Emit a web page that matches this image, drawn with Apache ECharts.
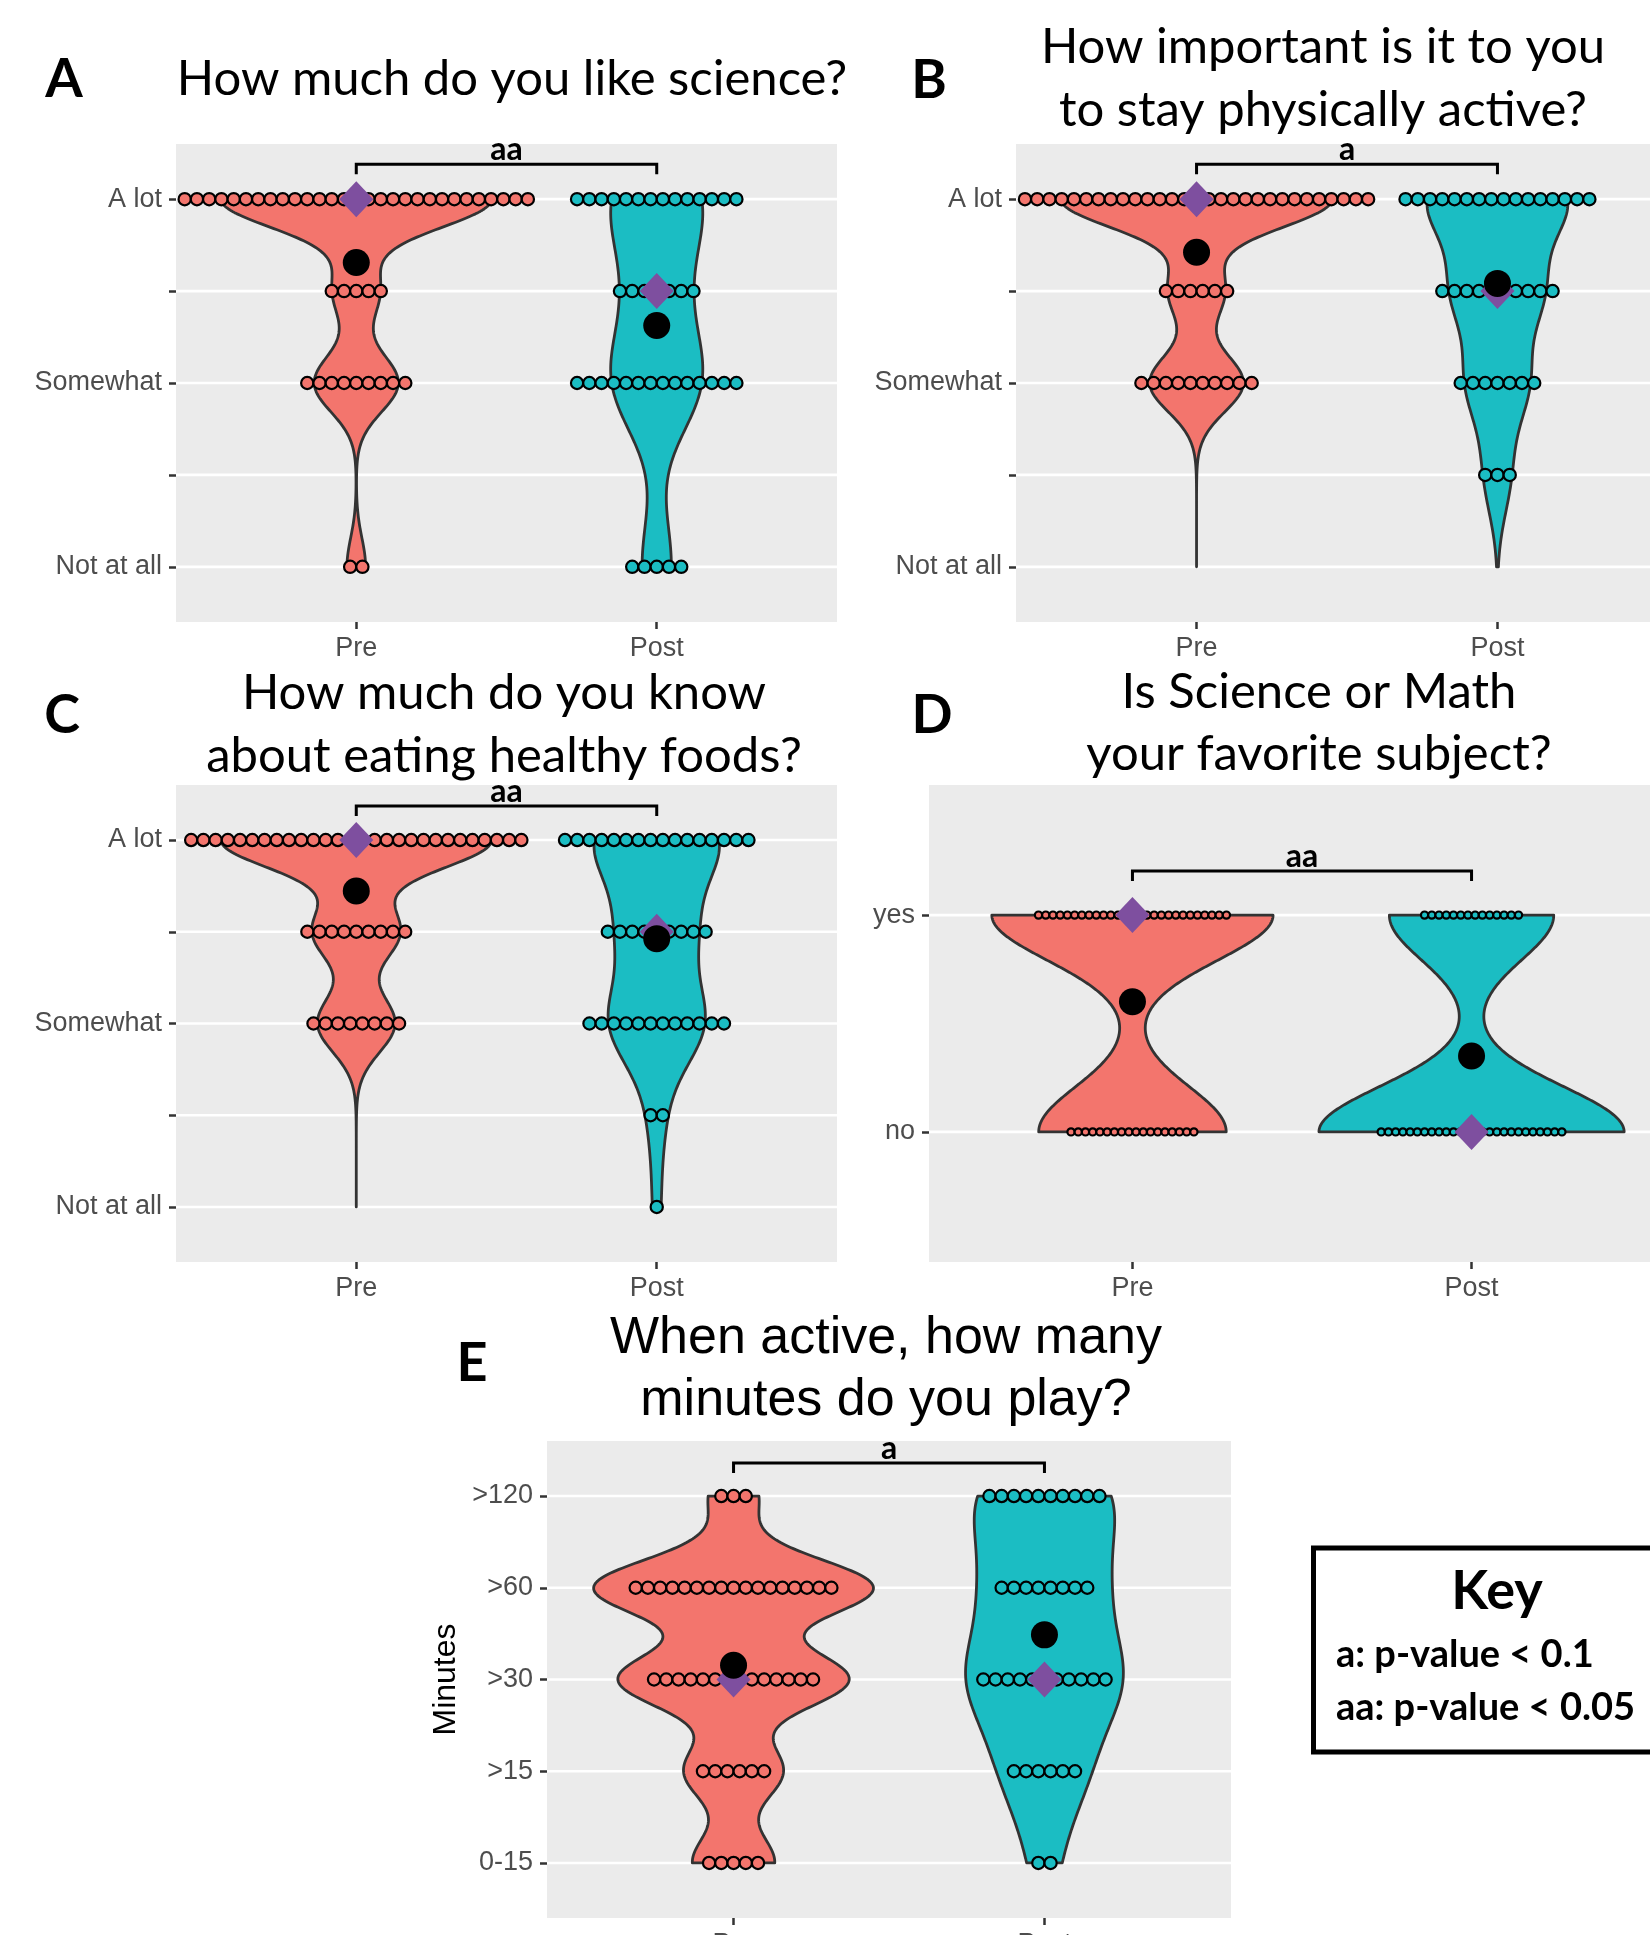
<!DOCTYPE html>
<html>
<head>
<meta charset="utf-8">
<script src="https://cdn.jsdelivr.net/npm/echarts@6/dist/echarts.min.js"></script>
<style>
html, body { margin: 0; padding: 0; background: #fff; overflow: hidden; }
#main { width: 1700px; height: 1990px; }
</style>
</head>
<body>
<div id="main"></div>
<script>
// answer counts per level, lowest level first
var groups = ['Pre', 'Post'];

var likeLevels = ['Not at all', '', 'Somewhat', '', 'A lot'];
var likePre  = [2, 0, 9, 5, 29];
var likePost = [5, 0, 14, 7, 14];

var activeLevels = ['Not at all', '', 'Somewhat', '', 'A lot'];
var activePre  = [0, 0, 10, 6, 29];
var activePost = [0, 3, 7, 10, 16];

var foodLevels = ['Not at all', '', 'Somewhat', '', 'A lot'];
var foodPre  = [0, 0, 8, 9, 28];
var foodPost = [1, 2, 12, 9, 16];

var favLevels = ['no', 'yes'];
var favPre  = [18, 27];
var favPost = [26, 14];

var minutesLevels = ['0-15', '>15', '>30', '>60', '>120'];
var minutesPre  = [5, 6, 14, 17, 3];
var minutesPost = [2, 6, 11, 8, 10];

var signif = ['aa', 'a', 'aa', 'aa', 'a'];

var fills = ['#F3756D', '#1BBDC3'];
var TITLE_FONT = 'Lato';
var AXIS_FONT = 'Liberation Sans';

var panels = [
    {letter: 'A', title: ['How much do you like science?'], levels: likeLevels, pre: likePre, post: likePost,
     grid: {left: 176, top: 144, width: 661, height: 478}, titleX: 512, titleY: [79], letterXY: [64, 80], gap: 35},
    {letter: 'B', title: ['How important is it to you', 'to stay physically active?'], levels: activeLevels, pre: activePre, post: activePost,
     grid: {left: 1016, top: 144, width: 662, height: 478}, titleX: 1323, titleY: [47, 110], letterXY: [929, 81], gap: 35},
    {letter: 'C', title: ['How much do you know', 'about eating healthy foods?'], levels: foodLevels, pre: foodPre, post: foodPost,
     grid: {left: 176, top: 785, width: 661, height: 477}, titleX: 504, titleY: [693, 756], letterXY: [62, 716], gap: 34},
    {letter: 'D', title: ['Is Science or Math', 'your favorite subject?'], levels: favLevels, pre: favPre, post: favPost,
     grid: {left: 929, top: 785, width: 746, height: 477}, titleX: 1319, titleY: [692, 754], letterXY: [932, 716], gap: 44},
    {letter: 'E', title: ['When active, how many', 'minutes do you play?'], levels: minutesLevels, pre: minutesPre, post: minutesPost,
     grid: {left: 547, top: 1441, width: 684, height: 477}, titleX: 886, titleY: [1339, 1401], letterXY: [472, 1364], gap: 33,
     titleFont: '52px "Liberation Sans"', yName: 'Minutes'}
];

function expand(counts) {
    var v = [];
    counts.forEach(function (c, i) { for (var k = 0; k < c; k++) v.push(i + 1); });
    return v;
}
function quantile(s, p) {
    var h = (s.length - 1) * p, lo = Math.floor(h);
    var hi = Math.min(lo + 1, s.length - 1);
    return s[lo] + (h - lo) * (s[hi] - s[lo]);
}
function meanOf(v) { return v.reduce(function (a, b) { return a + b; }, 0) / v.length; }
function medianOf(v) { var s = v.slice().sort(function (a, b) { return a - b; }); return quantile(s, 0.5); }
// R's bw.nrd0
function bandwidth(v) {
    var n = v.length, m = meanOf(v);
    var sd = Math.sqrt(v.reduce(function (a, b) { return a + (b - m) * (b - m); }, 0) / (n - 1));
    var s = v.slice().sort(function (a, b) { return a - b; });
    var lo = Math.min(sd, (quantile(s, 0.75) - quantile(s, 0.25)) / 1.34);
    if (!(lo > 0)) lo = sd;
    return 0.9 * lo * Math.pow(n, -0.2);
}
function density(v, bw, y) {
    var s = 0;
    for (var i = 0; i < v.length; i++) { var z = (y - v[i]) / bw; s += Math.exp(-0.5 * z * z); }
    return s / (v.length * bw * Math.sqrt(2 * Math.PI));
}

var grids = [], xAxes = [], yAxes = [], series = [], graphics = [];

panels.forEach(function (p, pi) {
    var nLev = p.levels.length;
    var vals = [expand(p.pre), expand(p.post)];
    var counts = [p.pre, p.post];

    // violin profiles, scale = "area", trimmed to the level range
    var steps = 300, maxD = 0;
    var profs = vals.map(function (v) {
        var bw = bandwidth(v), pr = [];
        for (var k = 0; k <= steps; k++) {
            var y = 1 + (nLev - 1) * k / steps;
            var d = density(v, bw, y);
            maxD = Math.max(maxD, d);
            pr.push([y, d]);
        }
        return pr;
    });

    grids.push(Object.assign({show: true, backgroundColor: '#EBEBEB', borderWidth: 0,
                              containLabel: false, outerBoundsMode: 'none'}, p.grid));

    xAxes.push({
        type: 'value', gridIndex: pi, min: 0.4, max: 2.6,
        axisLine: {show: false}, splitLine: {show: false},
        axisTick: {show: true, customValues: [1, 2], length: 7, lineStyle: {color: '#333', width: 2.5}},
        axisLabel: {customValues: [1, 2], margin: 13, color: '#4D4D4D', fontFamily: AXIS_FONT, fontSize: 27,
            formatter: function (v) { return groups[Math.round(v) - 1]; }}
    });
    var ticks = p.levels.map(function (l, i) { return i + 1; });
    yAxes.push({
        type: 'value', gridIndex: pi, min: 0.4, max: nLev + 0.6,
        axisLine: {show: false}, splitLine: {show: false},
        axisTick: {show: true, customValues: ticks, length: 7, lineStyle: {color: '#333', width: 2.5}},
        axisLabel: {customValues: ticks, margin: 14, color: '#4D4D4D', fontFamily: AXIS_FONT, fontSize: 27,
            formatter: function (v) { return p.levels[Math.round(v) - 1]; }}
    });

    // grid lines at each level
    series.push({
        type: 'custom', xAxisIndex: pi, yAxisIndex: pi, z: 1, silent: true,
        data: ticks.map(function (t) { return [1, t]; }),
        renderItem: function (params, api) {
            var y = api.coord([1, api.value(1)])[1], cs = params.coordSys;
            return {type: 'line', shape: {x1: cs.x, y1: y, x2: cs.x + cs.width, y2: y},
                    style: {stroke: '#fff', lineWidth: 2.6}};
        }
    });

    // violins
    series.push({
        type: 'custom', xAxisIndex: pi, yAxisIndex: pi, z: 2, silent: true,
        data: [[1, 1], [2, 1]],
        renderItem: function (params, api) {
            var g = params.dataIndex, cx = g + 1, pr = profs[g], pts = [];
            pr.forEach(function (q) { pts.push(api.coord([cx + 0.45 * q[1] / maxD, q[0]])); });
            for (var k = pr.length - 1; k >= 0; k--) pts.push(api.coord([cx - 0.45 * pr[k][1] / maxD, pr[k][0]]));
            return {type: 'polygon', shape: {points: pts},
                    style: {fill: fills[g], stroke: '#333333', lineWidth: 2.8, lineJoin: 'round'}};
        }
    });

    // dot plot, binwidth = range / 30, stacked centred
    var binw = (nLev - 1) / 30, dotData = [];
    counts.forEach(function (c, g) {
        c.forEach(function (n, i) { if (n > 0) dotData.push([g + 1, i + 1, n, g]); });
    });
    series.push({
        type: 'custom', xAxisIndex: pi, yAxisIndex: pi, z: 3, silent: true,
        data: dotData,
        renderItem: function (params, api) {
            var c = api.coord([api.value(0), api.value(1)]);
            var n = api.value(2), g = api.value(3);
            var d = api.size([0, binw])[1], kids = [];
            for (var i = 0; i < n; i++) {
                kids.push({type: 'circle', shape: {cx: c[0] + (i - (n - 1) / 2) * d, cy: c[1], r: d / 2},
                           style: {fill: fills[g], stroke: '#000', lineWidth: 2.2}});
            }
            return {type: 'group', children: kids};
        }
    });

    // medians and means
    series.push({
        type: 'scatter', xAxisIndex: pi, yAxisIndex: pi, z: 4, silent: true,
        symbol: 'diamond', symbolSize: [34, 36], itemStyle: {color: '#7E4F9F', opacity: 1},
        data: vals.map(function (v, g) { return [g + 1, medianOf(v)]; })
    });
    series.push({
        type: 'scatter', xAxisIndex: pi, yAxisIndex: pi, z: 5, silent: true,
        symbol: 'circle', symbolSize: 27, itemStyle: {color: '#000', opacity: 1},
        data: vals.map(function (v, g) { return [g + 1, meanOf(v)]; })
    });

    // significance bracket
    series.push({
        type: 'custom', xAxisIndex: pi, yAxisIndex: pi, z: 6, silent: true,
        data: [[1.5, nLev]],
        renderItem: function (params, api) {
            var a = api.coord([1, nLev]), b = api.coord([2, nLev]);
            var yl = a[1] - p.gap, yt = yl + 10;
            return {type: 'group', children: [
                {type: 'polyline', shape: {points: [[a[0], yt], [a[0], yl], [b[0], yl], [b[0], yt]]},
                 style: {stroke: '#000', lineWidth: 3, fill: null}},
                {type: 'text', x: (a[0] + b[0]) / 2, y: yl - 14,
                 style: {text: signif[pi], font: 'bold 32px Lato', fill: '#000',
                         textAlign: 'center', textVerticalAlign: 'middle', align: 'center', verticalAlign: 'middle'}}
            ]};
        }
    });

    // titles and panel letters
    p.title.forEach(function (t, li) {
        graphics.push({type: 'text', x: p.titleX, y: p.titleY[li],
            style: {text: t, font: p.titleFont || ('49px ' + TITLE_FONT), fill: '#000',
                    textAlign: 'center', textVerticalAlign: 'middle', align: 'center', verticalAlign: 'middle'}});
    });
    graphics.push({type: 'text', x: p.letterXY[0], y: p.letterXY[1],
        style: {text: p.letter, font: 'bold 54px ' + TITLE_FONT, fill: '#000',
                textAlign: 'center', textVerticalAlign: 'middle', align: 'center', verticalAlign: 'middle'}});
    if (p.yName) {
        graphics.push({type: 'text', x: 446, y: p.grid.top + p.grid.height / 2, rotation: Math.PI / 2,
            style: {text: p.yName, font: '32px ' + AXIS_FONT, fill: '#000',
                    textAlign: 'center', textVerticalAlign: 'middle', align: 'center', verticalAlign: 'middle'}});
    }
});

// key box
graphics.push({type: 'rect', shape: {x: 1313.5, y: 1548, width: 420, height: 204},
               style: {fill: '#fff', stroke: '#000', lineWidth: 5}});
graphics.push({type: 'text', x: 1497, y: 1592,
    style: {text: 'Key', font: 'bold 54px Lato', fill: '#000', textAlign: 'center', textVerticalAlign: 'middle', align: 'center', verticalAlign: 'middle'}});
graphics.push({type: 'text', x: 1336, y: 1655,
    style: {text: 'a: p-value < 0.1', font: 'bold 38px Lato', fill: '#000', textAlign: 'left', textVerticalAlign: 'middle', align: 'left', verticalAlign: 'middle'}});
graphics.push({type: 'text', x: 1336, y: 1708,
    style: {text: 'aa: p-value < 0.05', font: 'bold 38px Lato', fill: '#000', textAlign: 'left', textVerticalAlign: 'middle', align: 'left', verticalAlign: 'middle'}});

var chart = echarts.init(document.getElementById('main'), null, {renderer: 'canvas'});
chart.setOption({
    backgroundColor: '#fff',
    animation: false,
    grid: grids,
    xAxis: xAxes,
    yAxis: yAxes,
    series: series,
    graphic: graphics
});
</script>
</body>
</html>
